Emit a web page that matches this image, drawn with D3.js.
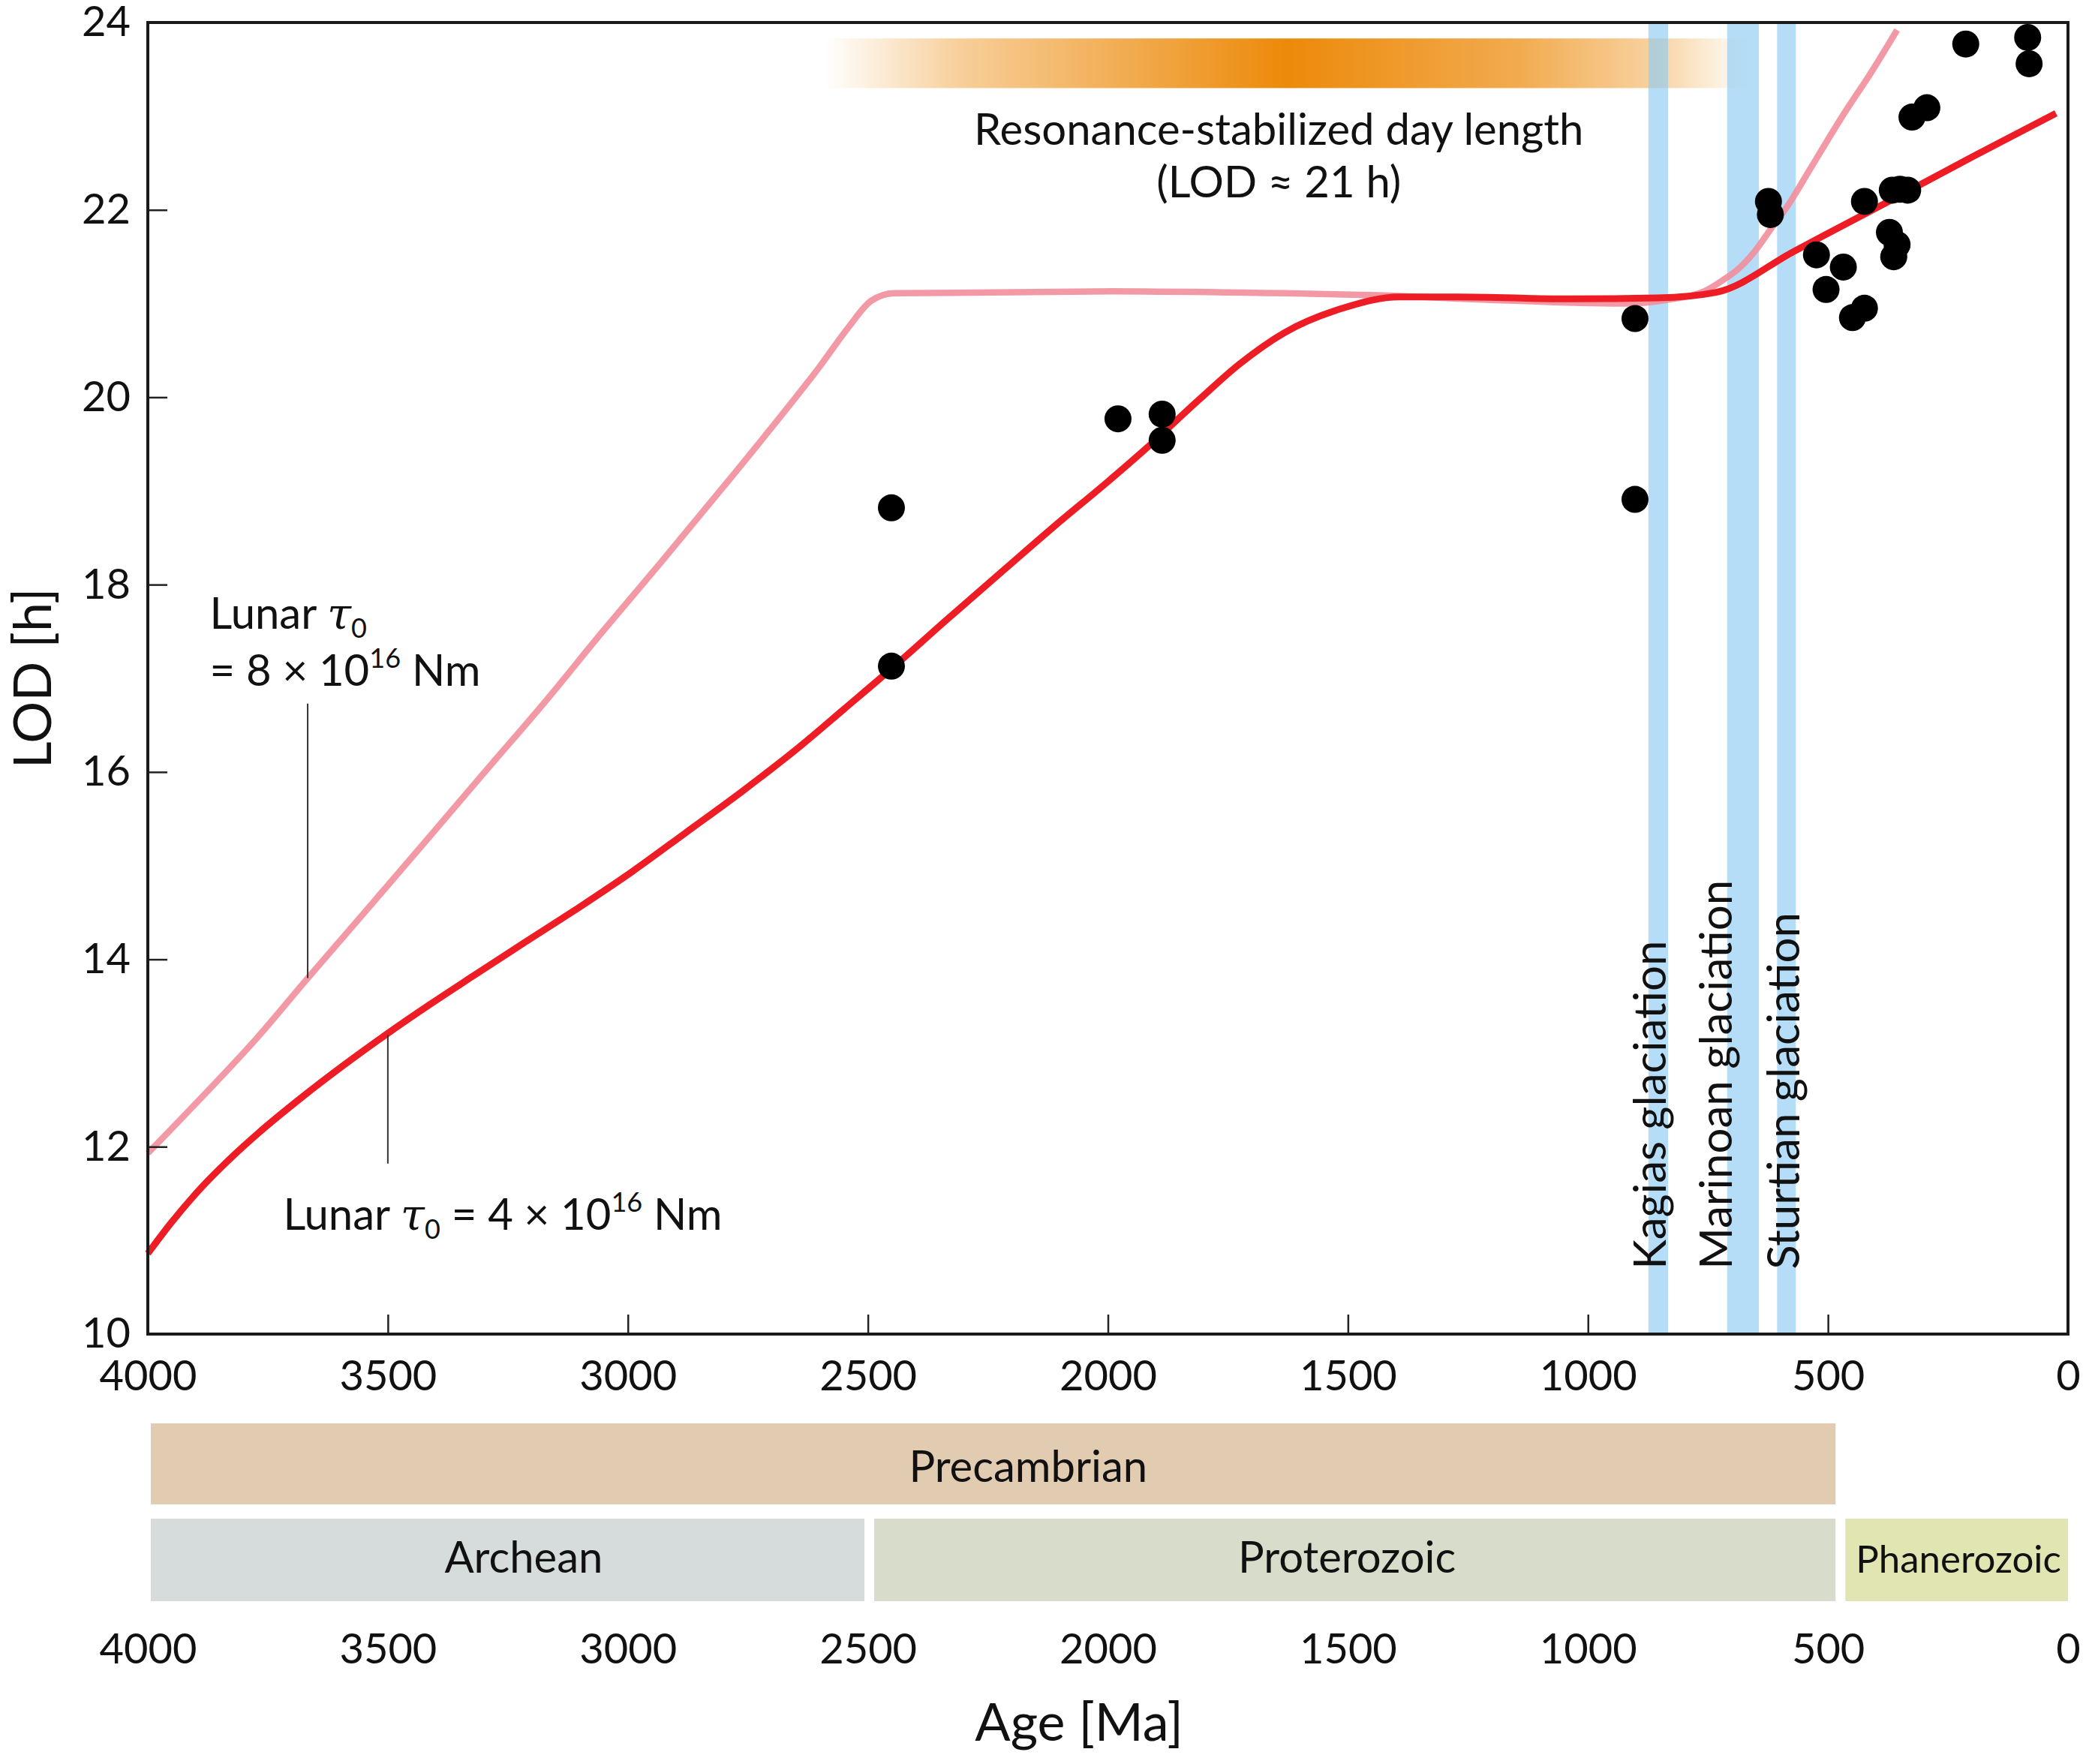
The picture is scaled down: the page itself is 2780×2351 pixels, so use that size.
<!DOCTYPE html>
<html>
<head>
<meta charset="utf-8">
<script src="https://cdn.jsdelivr.net/npm/d3@7"></script>
<style>
  body { margin: 0; background: #fff; }
  svg { display: block; }
  text { font-family: Lato, "Open Sans", sans-serif; fill: #111; }
</style>
</head>
<body>
<div id="chart"></div>
<script>
// ===== DATA =====
const ageTicks = [4000, 3500, 3000, 2500, 2000, 1500, 1000, 500, 0];
const lodTicks = [10, 12, 14, 16, 18, 20, 22, 24];

// model: lunar tau0 = 4e16 Nm (red)
const redAge = [4000, 3951, 3891, 3831, 3771, 3681, 3592, 3503, 3412, 3323, 3215, 3100, 2990, 2880, 2760, 2640, 2550, 2456, 2337, 2216, 2110, 2000, 1919, 1811, 1727, 1632, 1511, 1393, 1273, 1033, 855, 733, 570, 381, 194, 25];
const redLod = [10.86, 11.19, 11.55, 11.86, 12.14, 12.52, 12.87, 13.2, 13.52, 13.82, 14.18, 14.56, 14.94, 15.35, 15.8, 16.28, 16.67, 17.08, 17.62, 18.16, 18.63, 19.1, 19.46, 19.97, 20.35, 20.69, 20.95, 21.07, 21.07, 21.05, 21.06, 21.12, 21.56, 22.07, 22.58, 23.03];

// model: lunar tau0 = 8e16 Nm (pink)
const pinkAge = [4000, 3891, 3771, 3670, 3532, 3413, 3293, 3174, 3054, 2934, 2800, 2700, 2600, 2540, 2493, 2445, 1990, 1632, 1452, 1153, 914, 835, 758, 713, 689, 652, 620, 583, 539, 470, 406, 356];
const pinkLod = [11.93, 12.51, 13.17, 13.78, 14.6, 15.31, 16.03, 16.74, 17.49, 18.22, 19.05, 19.68, 20.33, 20.75, 21.03, 21.11, 21.13, 21.11, 21.09, 21.03, 21.0, 21.04, 21.13, 21.27, 21.36, 21.56, 21.79, 22.05, 22.42, 23.0, 23.5, 23.92];

// geological LOD estimates
const dotAge = [2451, 2451, 1979, 1887, 1887, 902, 902, 624, 620, 524, 468, 504, 449, 424, 424, 366, 350, 334, 372, 356, 363, 325, 294, 213, 84, 81];
const dotLod = [18.82, 17.13, 19.77, 19.82, 19.54, 20.84, 18.91, 22.09, 21.95, 21.52, 21.39, 21.15, 20.85, 20.95, 22.09, 22.21, 22.22, 22.21, 21.76, 21.63, 21.5, 22.99, 23.09, 23.77, 23.84, 23.56];

// glaciations
const glacNames = ['Kagias glaciation', 'Marinoan glaciation', 'Sturtian glaciation'];
const glacFrom = [874, 710, 606];
const glacTo = [833, 644, 567];

// resonance window (ages, LOD band)
const resAge = [2590, 665];
const resLod = [23.3, 23.83];

// eons
const eonNames = ['Precambrian', 'Archean', 'Proterozoic', 'Phanerozoic'];
const eonFrom = [4000, 4000, 2497, 474];
const eonTo = [474, 2497, 474, 0];
const eonRow = [0, 1, 1, 1];
const eonColors = ['#E1CBB1', '#D6DCDB', '#D7DDCA', '#E1E5B2'];

// ===== SETUP =====
const W = 2780, H = 2351;
const svg = d3.select('#chart').append('svg').attr('width', W).attr('height', H);
svg.append('rect').attr('width', W).attr('height', H).attr('fill', '#fff');

const x = d3.scaleLinear().domain([4000, 0]).range([197, 2756]);
const y = d3.scaleLinear().domain([10, 24]).range([1778, 30]);

// gradient for resonance bar
const defs = svg.append('defs');
const grad = defs.append('linearGradient').attr('id', 'resGrad')
    .attr('gradientUnits', 'userSpaceOnUse')
    .attr('x1', x(resAge[0])).attr('x2', x(resAge[1])).attr('y1', 0).attr('y2', 0);
[[0, 0], [0.15, 0.42], [0.5, 1], [0.75, 0.72], [0.9, 0.38], [1, 0]].forEach(s => {
    grad.append('stop').attr('offset', s[0]).attr('stop-color', '#EC8A0A').attr('stop-opacity', s[1]);
});

svg.append('rect')
    .attr('x', x(resAge[0])).attr('width', x(resAge[1]) - x(resAge[0]))
    .attr('y', y(resLod[1])).attr('height', y(resLod[0]) - y(resLod[1]))
    .attr('fill', 'url(#resGrad)');

// glaciation bands
glacNames.forEach((name, i) => {
    svg.append('rect')
        .attr('x', x(glacFrom[i])).attr('width', x(glacTo[i]) - x(glacFrom[i]))
        .attr('y', y(24)).attr('height', y(10) - y(24))
        .attr('fill', '#8ECBF3').attr('opacity', 0.65);
});

// model curves
const line = d3.line().curve(d3.curveMonotoneX);
svg.append('path')
    .attr('d', line(pinkAge.map((a, i) => [x(a), y(pinkLod[i])])))
    .attr('fill', 'none').attr('stroke', '#F28E9B').attr('stroke-opacity', 0.9)
    .attr('stroke-width', 8.5).attr('stroke-linejoin', 'round');
svg.append('path')
    .attr('d', line(redAge.map((a, i) => [x(a), y(redLod[i])])))
    .attr('fill', 'none').attr('stroke', '#EE1D25')
    .attr('stroke-width', 9).attr('stroke-linejoin', 'round');

// data points
svg.append('g').selectAll('circle')
    .data(dotAge.map((a, i) => [a, dotLod[i]]))
    .join('circle')
    .attr('cx', d => x(d[0])).attr('cy', d => y(d[1]))
    .attr('r', 18).attr('fill', '#000');

// axes
const fmt = d3.format('d');
const xAxis = svg.append('g').attr('transform', `translate(0,${y(10)})`)
    .call(d3.axisBottom(x).tickValues(ageTicks).tickFormat(fmt).tickSizeInner(-26).tickSizeOuter(0).tickPadding(35));
const yAxis = svg.append('g').attr('transform', `translate(${x(4000)},0)`)
    .call(d3.axisLeft(y).tickValues(lodTicks).tickFormat(fmt).tickSizeInner(-26).tickSizeOuter(0).tickPadding(23));
[xAxis, yAxis].forEach(g => {
    g.select('.domain').remove();
    g.selectAll('.tick line').attr('stroke', '#222').attr('stroke-width', 2.5);
    g.selectAll('.tick text').attr('font-size', 56).attr('font-family', 'Lato').attr('fill', '#111');
});

// frame
svg.append('rect')
    .attr('x', x(4000)).attr('y', y(24))
    .attr('width', x(0) - x(4000)).attr('height', y(10) - y(24))
    .attr('fill', 'none').attr('stroke', '#1a1a1a').attr('stroke-width', 4);

// axis titles
svg.append('text')
    .attr('transform', `translate(68,${y(17)}) rotate(-90)`)
    .attr('text-anchor', 'middle').attr('font-size', 70).text('LOD [h]');
svg.append('text')
    .attr('x', x(2060)).attr('y', 2320)
    .attr('text-anchor', 'middle').attr('font-size', 70).text('Age [Ma]');

// resonance annotation
svg.append('text').attr('x', x(1644)).attr('y', 193)
    .attr('text-anchor', 'middle').attr('font-size', 58).text('Resonance-stabilized day length');
svg.append('text').attr('x', x(1644)).attr('y', 263)
    .attr('text-anchor', 'middle').attr('font-size', 58).text('(LOD \u2248 21 h)');

// glaciation labels
const glacLabelAge = [838, 700, 560];
glacNames.forEach((name, i) => {
    svg.append('text')
        .attr('transform', `translate(${x(glacLabelAge[i])},${y(10.69)}) rotate(-90)`)
        .attr('font-size', 60).text(name);
});

// lunar torque annotations
const leaders = [
    { age: 3667, lod: [16.73, 13.8] },
    { age: 3500, lod: [13.19, 11.82] }
];
leaders.forEach(l => {
    svg.append('line')
        .attr('x1', x(l.age)).attr('x2', x(l.age))
        .attr('y1', y(l.lod[0])).attr('y2', y(l.lod[1]))
        .attr('stroke', '#333').attr('stroke-width', 2);
});

function tau(t) {
    t.append('tspan').text('Lunar ');
    t.append('tspan').attr('font-style', 'italic').attr('font-family', 'DejaVu Serif').text('\u03C4');
    t.append('tspan').attr('font-size', 36).attr('dy', 12).text('0');
}

const a1 = svg.append('text').attr('x', x(3871)).attr('y', 838).attr('font-size', 58);
tau(a1);
const a1b = svg.append('text').attr('x', x(3871)).attr('y', 914).attr('font-size', 58);
a1b.append('tspan').text('= 8 \u00D7 10');
a1b.append('tspan').attr('font-size', 36).attr('dy', -24).text('16');
a1b.append('tspan').attr('dy', 24).text(' Nm');

const a2 = svg.append('text').attr('x', x(3718)).attr('y', 1639).attr('font-size', 58);
tau(a2);
a2.append('tspan').attr('dy', -12).text(' = 4 \u00D7 10');
a2.append('tspan').attr('font-size', 36).attr('dy', -24).text('16');
a2.append('tspan').attr('dy', 24).text(' Nm');

// eon bars
const rowTop = [1897, 2024], rowH = [108, 110], rowBase = [1975, 2096];
const eonLabelAge = [2166, 3217, 1502, 228];
eonNames.forEach((name, i) => {
    const x0 = x(eonFrom[i]) + (eonFrom[i] === 4000 ? 4 : 6.5);
    const x1 = x(eonTo[i]) - (eonTo[i] === 0 ? 0 : 6.5);
    svg.append('rect')
        .attr('x', x0).attr('width', x1 - x0)
        .attr('y', rowTop[eonRow[i]]).attr('height', rowH[eonRow[i]])
        .attr('fill', eonColors[i]);
    svg.append('text')
        .attr('x', x(eonLabelAge[i])).attr('y', rowBase[eonRow[i]])
        .attr('text-anchor', 'middle')
        .attr('font-size', name === 'Phanerozoic' ? 51 : 58)
        .text(name);
});

// second age scale under the eon bars
const x2 = svg.append('g').attr('transform', 'translate(0,2142)')
    .call(d3.axisBottom(x).tickValues(ageTicks).tickFormat(fmt).tickSize(0).tickPadding(35));
x2.select('.domain').remove();
x2.selectAll('.tick text').attr('font-size', 56).attr('font-family', 'Lato').attr('fill', '#111');
</script>
</body>
</html>
